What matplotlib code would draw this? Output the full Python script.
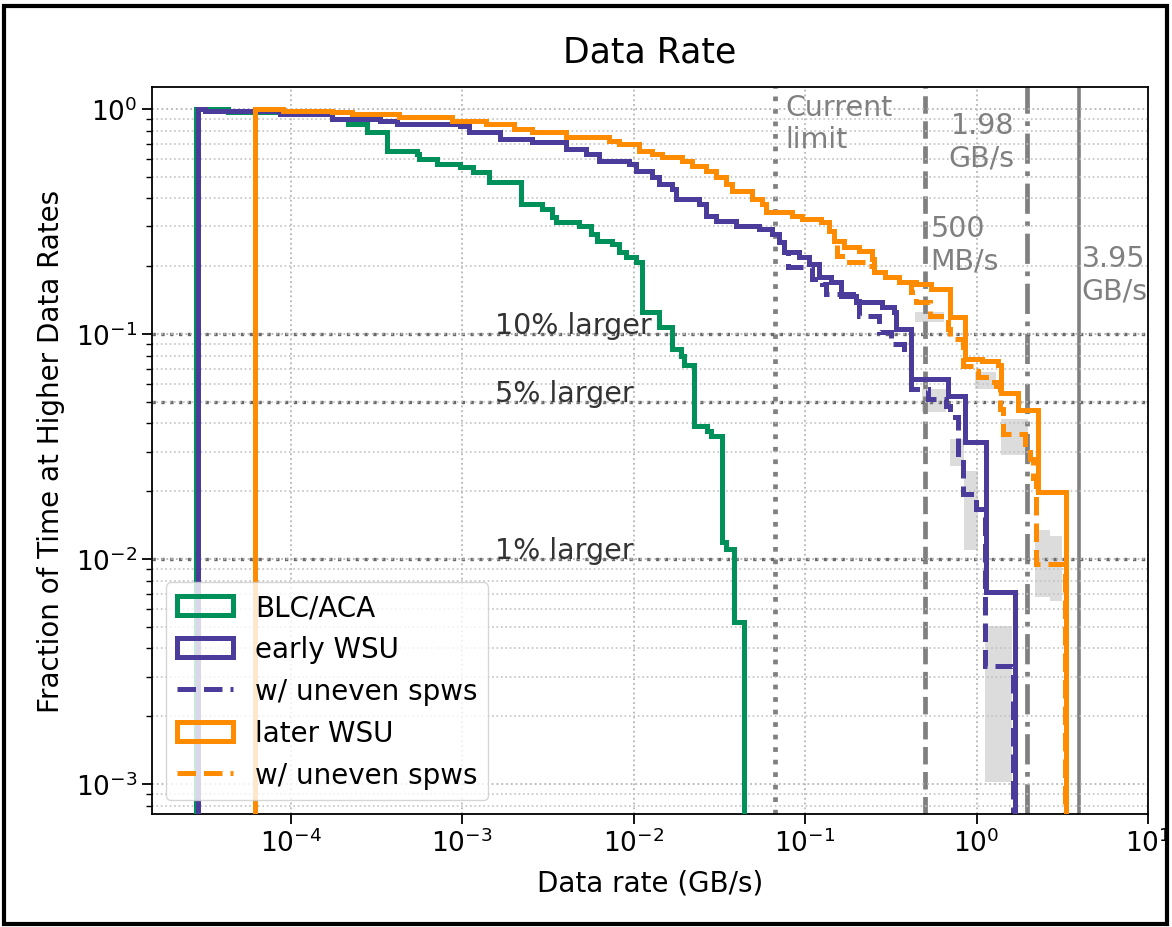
import matplotlib
matplotlib.use("Agg")
import matplotlib.pyplot as plt
from matplotlib.patches import Patch, Rectangle
from matplotlib.lines import Line2D
from matplotlib.ticker import NullLocator

# Fraction of time above a given data rate (GB/s)

# BLC/ACA
blc_edges = [2.80e-5, 4.30e-5, 1.75e-4, 2.15e-4, 2.77e-4, 3.62e-4, 5.41e-4, 5.63e-4,
             7.08e-4, 9.64e-4, 1.15e-3, 1.44e-3, 2.21e-3, 2.93e-3, 3.35e-3, 3.53e-3,
             4.81e-3, 5.65e-3, 6.12e-3, 7.48e-3, 8.22e-3, 9.03e-3, 1.03e-2, 1.12e-2,
             1.41e-2, 1.67e-2, 1.89e-2, 1.97e-2, 2.25e-2, 2.68e-2, 2.82e-2, 3.27e-2,
             3.45e-2, 3.84e-2, 4.39e-2]
blc_frac = [1.0, 0.97, 0.90, 0.86, 0.79, 0.65, 0.63, 0.60, 0.57, 0.55, 0.525, 0.475,
            0.378, 0.36, 0.331, 0.315, 0.302, 0.278, 0.259, 0.251, 0.231, 0.22, 0.208,
            0.125, 0.107, 0.086, 0.080, 0.073, 0.039, 0.037, 0.035, 0.0119, 0.0111,
            0.00525]

# early WSU
early_edges = [2.88e-5, 3.16e-5, 8.63e-5, 1.73e-4, 3.30e-4, 4.14e-4, 9.64e-4, 1.10e-3,
               1.65e-3, 2.56e-3, 4.04e-3, 5.28e-3, 6.29e-3, 9.40e-3, 1.03e-2, 1.28e-2,
               1.41e-2, 1.67e-2, 1.77e-2, 2.40e-2, 2.64e-2, 3.02e-2, 3.94e-2, 5.37e-2,
               6.39e-2, 7.02e-2, 7.50e-2, 9.18e-2, 0.105, 0.120, 0.141, 0.161, 0.197,
               0.279, 0.328, 0.341, 0.417, 0.685, 0.861, 1.14, 1.68]
early_frac = [1.0, 0.98, 0.95, 0.90, 0.885, 0.858, 0.84, 0.79, 0.736, 0.713, 0.664,
              0.631, 0.587, 0.569, 0.53, 0.499, 0.464, 0.441, 0.398, 0.378, 0.335,
              0.318, 0.302, 0.293, 0.278, 0.256, 0.231, 0.22, 0.204, 0.179, 0.170,
              0.148, 0.139, 0.132, 0.125, 0.105, 0.063, 0.053, 0.0331, 0.0071]

# early WSU w/ uneven spws (same as early WSU up to ~0.075 GB/s)
early_uneven_edges = early_edges[:27] + [7.9e-2, 0.109, 0.125, 0.132, 0.205, 0.268, 0.319,
                                         0.375, 0.417, 0.524, 0.667, 0.703, 0.783, 0.838,
                                         0.997, 1.12, 1.64]
early_uneven_frac = early_frac[:27] + [0.199, 0.176, 0.167, 0.151, 0.120, 0.102, 0.0903,
                                       0.0815, 0.057, 0.0514, 0.0478, 0.0428, 0.0293,
                                       0.0195, 0.0167, 0.00334]

# later WSU
later_edges = [6.17e-5, 8.98e-5, 1.75e-4, 2.29e-4, 4.30e-4, 8.77e-4, 1.38e-3, 2.01e-3,
               2.56e-3, 4.04e-3, 7.20e-3, 8.22e-3, 1.07e-2, 1.28e-2, 1.46e-2, 1.91e-2,
               2.19e-2, 2.64e-2, 3.02e-2, 3.45e-2, 3.74e-2, 4.89e-2, 5.59e-2, 5.90e-2,
               8.36e-2, 9.55e-2, 0.123, 0.137, 0.147, 0.168, 0.205, 0.244, 0.251, 0.294,
               0.351, 0.441, 0.546, 0.703, 0.861, 1.07, 1.34, 1.39, 1.75, 2.29, 3.33]
later_frac = [1.0, 0.98, 0.97, 0.95, 0.921, 0.885, 0.858, 0.815, 0.79, 0.751, 0.721,
              0.699, 0.651, 0.631, 0.612, 0.587, 0.558, 0.53, 0.499, 0.464, 0.432, 0.398,
              0.378, 0.349, 0.335, 0.324, 0.315, 0.287, 0.259, 0.244, 0.234, 0.215, 0.189,
              0.179, 0.170, 0.167, 0.158, 0.119, 0.0774, 0.0758, 0.0728, 0.0547, 0.0459,
              0.0199]

# later WSU w/ uneven spws
later_uneven_edges = later_edges[:29] + [0.153, 0.180, 0.225, 0.251, 0.294, 0.351, 0.412,
                                         0.441, 0.538, 0.624, 0.685, 0.703, 0.838, 0.985,
                                         1.02, 1.22, 1.29, 1.37, 1.43, 1.92, 2.06, 2.14,
                                         2.23, 3.29]
later_uneven_frac = later_frac[:29] + [0.222, 0.209, 0.200, 0.189, 0.179, 0.170, 0.154,
                                       0.139, 0.120, 0.117, 0.105, 0.0947, 0.0721, 0.0686,
                                       0.0645, 0.0612, 0.0588, 0.0464, 0.0359, 0.0325,
                                       0.0279, 0.0228, 0.0095]

# spread of the uneven-spw cases (x0, x1, low, high)
band_x0 = [0.48, 0.70, 0.84, 1.12, 0.44, 0.98, 1.39, 2.20, 2.70]
band_x1 = [0.66, 0.84, 1.02, 1.62, 0.65, 1.29, 2.00, 2.70, 3.15]
band_lo = [0.045, 0.026, 0.011, 0.00102, 0.113, 0.057, 0.029, 0.0068, 0.0065]
band_hi = [0.057, 0.034, 0.0245, 0.00504, 0.125, 0.068, 0.042, 0.0134, 0.0127]

# reference rates (GB/s)
limits = [0.067, 0.5, 1.98, 3.95]
limit_styles = [':', '--', '-.', '-']
fractions = [0.1, 0.05, 0.01]
fraction_labels = ['10% larger', '5% larger', '1% larger']

green = '#00905A'
purple = '#4B3C9C'
orange = '#FF8C00'
lw = 3.6

fig = plt.figure(figsize=(11.72, 9.28), dpi=100)
ax = fig.add_axes([0.1297, 0.1218, 0.8498, 0.7834])
ax.set_xscale('log')
ax.set_yscale('log')

for x0, x1, lo, hi in zip(band_x0, band_x1, band_lo, band_hi):
    ax.fill_between([x0, x1], [lo, lo], [hi, hi], color='#dcdcdc', lw=0, zorder=1.2)

for x, ls in zip(limits, limit_styles):
    ax.axvline(x, color='gray', ls=ls, lw=3.4 if ls != '-' else 2.6, zorder=1.4)
for y in fractions:
    ax.axhline(y, color='dimgray', ls=':', lw=2.4, zorder=1.4)

ax.stairs(early_uneven_frac, early_uneven_edges, baseline=1e-6, color=purple, lw=lw,
          ls='--', zorder=2)
ax.stairs(later_uneven_frac, later_uneven_edges, baseline=1e-6, color=orange, lw=lw,
          ls='--', zorder=2)
ax.stairs(blc_frac, blc_edges, baseline=1e-6, color=green, lw=lw, zorder=3)
ax.stairs(early_frac, early_edges, baseline=1e-6, color=purple, lw=lw, zorder=3)
ax.stairs(later_frac, later_edges, baseline=1e-6, color=orange, lw=lw, zorder=3)

ax.set_xlim(1.55e-5, 10)
ax.set_ylim(7.36e-4, 1.25)
ax.xaxis.set_minor_locator(NullLocator())
ax.grid(True, which='major', ls=':', color='#b5b5b5', lw=1.3)
ax.grid(True, which='minor', axis='y', ls=':', color='#c2c2c2', lw=1.2)
ax.tick_params(which='major', length=7, width=1.3, labelsize=19)
ax.tick_params(which='minor', length=4, width=1.0)
for s in ax.spines.values():
    s.set_linewidth(1.3)

txt = 20.5
ax.text(0.077, 1.18, 'Current\nlimit', color='gray', fontsize=txt, va='top', ha='left')
ax.text(1.66, 0.975, '1.98\nGB/s', color='gray', fontsize=txt, va='top', ha='right')
ax.text(0.54, 0.34, '500\nMB/s', color='gray', fontsize=txt, va='top', ha='left')
ax.text(4.1, 0.25, '3.95\nGB/s', color='gray', fontsize=txt, va='top', ha='left')
for y, lab in zip(fractions, fraction_labels):
    ax.text(1.55e-3, y * 1.01, lab, color='#333333', fontsize=txt, va='baseline', ha='left')

ax.set_title('Data Rate', fontsize=25, pad=18)
ax.set_xlabel('Data rate (GB/s)', fontsize=20, labelpad=8)
ax.set_ylabel('Fraction of Time at Higher Data Rates', fontsize=20, labelpad=8)

handles = [Patch(facecolor='none', edgecolor=green, lw=lw, label='BLC/ACA'),
           Patch(facecolor='none', edgecolor=purple, lw=lw, label='early WSU'),
           Line2D([], [], color=purple, ls='--', lw=lw, label='w/ uneven spws'),
           Patch(facecolor='none', edgecolor=orange, lw=lw, label='later WSU'),
           Line2D([], [], color=orange, ls='--', lw=lw, label='w/ uneven spws')]
ax.legend(handles=handles, loc='lower left', fontsize=20)

fig.patches.append(Rectangle((0.003, 0.0032), 0.9927, 0.9893, transform=fig.transFigure,
                             fill=False, edgecolor='black', lw=3))

fig.savefig('out.png', dpi=100)
